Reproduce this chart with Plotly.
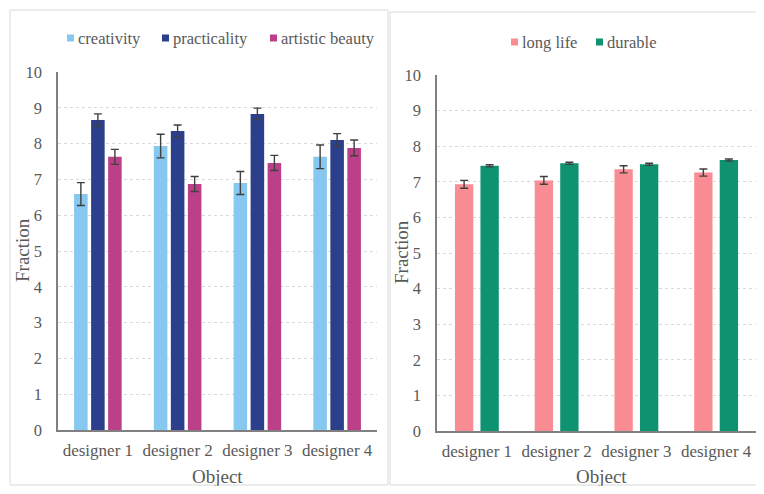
import plotly.graph_objects as go

categories = ["designer 1", "designer 2", "designer 3", "designer 4"]

creativity = [6.59, 7.93, 6.90, 7.63]
creativity_err = [0.32, 0.33, 0.32, 0.33]
practicality = [8.66, 8.35, 8.83, 8.10]
practicality_err = [0.17, 0.17, 0.16, 0.18]
artistic_beauty = [7.63, 6.87, 7.46, 7.88]
artistic_beauty_err = [0.21, 0.21, 0.21, 0.22]

long_life = [6.93, 7.04, 7.35, 7.26]
long_life_err = [0.11, 0.11, 0.10, 0.10]
durable = [7.45, 7.52, 7.49, 7.61]
durable_err = [0.03, 0.03, 0.03, 0.03]

y_ticks = list(range(0, 11))
x_title = "Object"
y_title = "Fraction"

# page body has an 8px margin: figure is sized to fit the window exactly
OFF = 8
W, H = 764 - 2 * OFF, 494 - 2 * OFF
FONT = "Liberation Serif, Times New Roman, serif"
TXT = "#595959"
GRID = "#D9D9D9"
AXL = "#808080"


def px_x(v):
    # v given in window pixels
    return (v - OFF) / W


def px_y(v):
    return 1 - (v - OFF) / H


fig = go.Figure()

left_series = [
    ("creativity", creativity, creativity_err, "#86C8F0"),
    ("practicality", practicality, practicality_err, "#2B3F8C"),
    ("artistic beauty", artistic_beauty, artistic_beauty_err, "#BC3F89"),
]
right_series = [
    ("long life", long_life, long_life_err, "#FA8D94"),
    ("durable", durable, durable_err, "#0F9270"),
]

for name, vals, err, col in left_series:
    fig.add_trace(go.Bar(
        x=categories, y=vals, name=name, marker=dict(color=col, line=dict(width=0)),
        width=0.17, showlegend=False,
        error_y=dict(type="data", array=err, color="#3F3F3F", thickness=1.4, width=4),
        xaxis="x", yaxis="y",
    ))

for name, vals, err, col in right_series:
    fig.add_trace(go.Bar(
        x=categories, y=vals, name=name, marker=dict(color=col, line=dict(width=0)),
        width=0.23, showlegend=False,
        error_y=dict(type="data", array=err, color="#3F3F3F", thickness=1.4, width=4),
        xaxis="x2", yaxis="y2",
    ))

xaxis_common = dict(
    showgrid=False, showline=True, linecolor=AXL, linewidth=2, automargin=False,
    ticks="outside", tickcolor="rgba(0,0,0,0)", ticklen=4,
    tickfont=dict(family=FONT, size=17, color=TXT),
)
yaxis_common = dict(
    range=[0, 10], tickvals=y_ticks, showgrid=True, gridcolor=GRID, gridwidth=1,
    griddash="dot", automargin=False,
    showline=True, linecolor=AXL, linewidth=1.5, zeroline=False,
    ticks="outside", tickcolor="rgba(0,0,0,0)", ticklen=11,
    tickfont=dict(family=FONT, size=16.5, color=TXT),
)

annotations = []
# axis titles
for xc, yc in [(217, 476), (601, 476)]:
    annotations.append(dict(text=x_title, x=px_x(xc), y=px_y(yc), xref="paper", yref="paper",
                            xanchor="center", yanchor="middle", showarrow=False,
                            font=dict(family=FONT, size=19, color=TXT)))
for xc, yc in [(22, 250), (401, 252)]:
    annotations.append(dict(text=y_title, x=px_x(xc), y=px_y(yc), xref="paper", yref="paper",
                            xanchor="center", yanchor="middle", showarrow=False, textangle=-90,
                            font=dict(family=FONT, size=19, color=TXT)))

# legends (square marker + label)
shapes = []
legend_items = [
    (left_series[0], 67, 38), (left_series[1], 162, 38), (left_series[2], 270, 38),
    (right_series[0], 511, 42), (right_series[1], 596, 42),
]
for (name, _v, _e, col), lx, ly in legend_items:
    shapes.append(dict(type="rect", xref="paper", yref="paper",
                       x0=px_x(lx), x1=px_x(lx + 7), y0=px_y(ly + 3.5), y1=px_y(ly - 3.5),
                       fillcolor=col, line=dict(width=0)))
    annotations.append(dict(text=name, x=px_x(lx + 9), y=px_y(ly), xref="paper", yref="paper",
                            xanchor="left", yanchor="middle", showarrow=False,
                            font=dict(family=FONT, size=16.5, color=TXT)))

# panel borders
shapes += [
    dict(type="rect", xref="paper", yref="paper", x0=px_x(10), x1=px_x(388),
         y0=px_y(485), y1=px_y(10), line=dict(color="#D9D9D9", width=1), layer="below"),
    dict(type="rect", xref="paper", yref="paper", x0=px_x(390), x1=px_x(800),
         y0=px_y(485), y1=px_y(12), line=dict(color="#D9D9D9", width=1), layer="below"),
]

fig.update_layout(
    width=W, height=H,
    margin=dict(l=0, r=0, t=0, b=0, autoexpand=False),
    paper_bgcolor="white", plot_bgcolor="white",
    barmode="group", bargap=0.36, bargroupgap=0.0,
    font=dict(family=FONT, color=TXT),
    showlegend=False,
    xaxis=dict(domain=[px_x(58), px_x(377)], anchor="y", range=[-0.5, 3.5], **xaxis_common),
    yaxis=dict(domain=[px_y(430), px_y(72)], anchor="x", **yaxis_common),
    xaxis2=dict(domain=[px_x(437), 1.0], anchor="y2", range=[-0.5, 3.5], **xaxis_common),
    yaxis2=dict(domain=[px_y(431), px_y(75)], anchor="x2", **yaxis_common),
    annotations=annotations,
    shapes=shapes,
)

fig.write_html("out.html")
